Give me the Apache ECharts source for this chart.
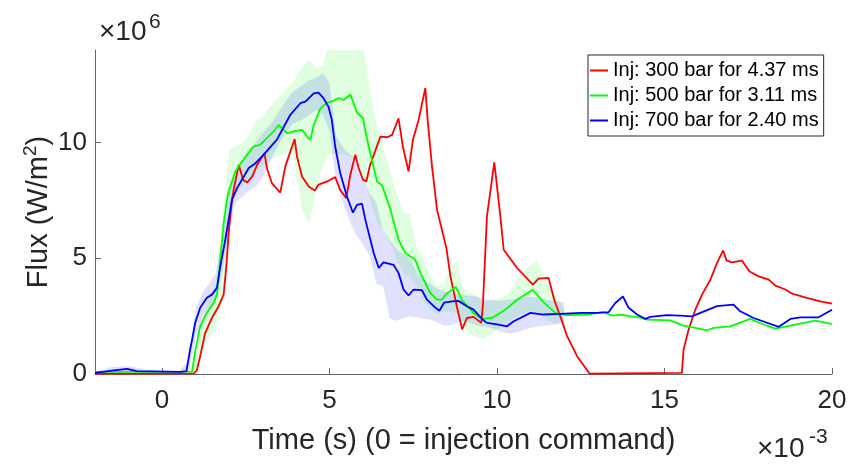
<!DOCTYPE html>
<html><head><meta charset="utf-8">
<script src="https://cdn.jsdelivr.net/npm/echarts@6/dist/echarts.min.js"></script>
<style>html,body{margin:0;padding:0;background:#fff}#c{width:852px;height:466px}</style>
</head><body><div id="c"></div>
<script>
// ---- data (x in ms i.e. ×10^-3 s, y in ×10^6 W/m^2) ----
const xTicks = [0, 5, 10, 15, 20];
const yTicks = [0, 5, 10];
const names = ['Inj: 300 bar for 4.37 ms', 'Inj: 500 bar for 3.11 ms', 'Inj: 700 bar for 2.40 ms'];

const red = [[-2,0.02],[0,0.02],[0.95,0.03],[1.04,0.16],[1.14,0.77],[1.29,1.78],[1.49,2.42],[1.69,2.93],[1.84,3.43],[1.92,4.65],[1.99,6.09],[2.09,7.53],[2.14,7.96],[2.29,9.04],[2.42,8.39],[2.54,8.27],[2.69,8.53],[2.84,9.04],[3.06,9.54],[3.13,8.90],[3.28,8.25],[3.53,7.84],[3.68,8.96],[3.83,9.61],[3.96,10.15],[4.03,9.40],[4.18,8.53],[4.38,8.10],[4.56,7.93],[4.67,8.18],[4.93,8.32],[5.17,8.51],[5.32,7.95],[5.50,7.60],[5.62,8.6],[5.77,9.47],[5.87,8.9],[6.0,8.4],[6.10,8.32],[6.2,8.97],[6.52,10.26],[6.72,10.23],[6.87,10.33],[7.06,11.05],[7.19,9.83],[7.36,8.75],[7.49,10.12],[7.66,10.98],[7.86,12.35],[7.93,10.98],[8.06,8.97],[8.21,7.10],[8.49,5.44],[8.61,4.22],[8.81,2.86],[8.96,1.93],[9.10,2.42],[9.30,2.47],[9.53,2.21],[9.58,3.0],[9.70,6.81],[9.92,9.14],[10.1,6.81],[10.2,5.37],[10.60,4.58],[11.07,3.86],[11.24,4.12],[11.54,4.15],[11.71,3.2],[11.89,2.49],[12.09,1.65],[12.39,0.77],[12.76,0.02],[15.52,0.05],[15.57,1.06],[15.72,1.92],[15.92,2.78],[16.12,3.43],[16.37,4.08],[16.57,4.80],[16.75,5.34],[16.85,4.91],[17.01,4.82],[17.31,4.90],[17.54,4.43],[17.81,4.22],[18.11,4.08],[18.31,3.82],[18.61,3.65],[18.81,3.47],[19.25,3.29],[19.65,3.14],[20.0,3.04]];

const green = [[-2,0.09],[0.9,0.1],[0.99,0.98],[1.14,2.06],[1.34,2.64],[1.54,3.07],[1.64,3.43],[1.74,4.94],[1.84,6.52],[1.94,7.53],[1.99,7.89],[2.19,8.75],[2.34,9.08],[2.54,9.47],[2.73,9.83],[2.93,9.90],[3.13,10.19],[3.33,10.48],[3.48,10.76],[3.58,10.62],[3.73,10.41],[3.93,10.48],[4.18,10.55],[4.33,10.26],[4.43,10.12],[4.53,10.76],[4.73,11.48],[4.93,11.73],[5.07,11.77],[5.27,11.92],[5.42,11.84],[5.62,12.08],[5.67,12.08],[5.82,11.3],[6.0,11.05],[6.07,10.5],[6.17,9.83],[6.42,8.32],[6.57,8.15],[6.82,7.10],[7.06,5.80],[7.26,5.23],[7.56,4.94],[7.71,4.37],[8.01,3.50],[8.21,3.21],[8.36,3.21],[8.46,3.43],[8.77,3.76],[8.96,3.18],[9.30,2.64],[9.55,2.38],[9.85,2.42],[10.25,2.78],[10.6,3.21],[11.07,3.64],[11.39,3.10],[11.74,2.64],[12.09,2.54],[12.69,2.57],[13.18,2.67],[13.43,2.52],[13.73,2.57],[13.98,2.49],[14.18,2.47],[14.48,2.35],[15.17,2.32],[15.57,2.09],[15.92,1.99],[16.27,1.89],[16.47,1.99],[16.96,2.06],[17.56,2.38],[17.96,2.14],[18.31,1.96],[18.76,2.09],[19.05,2.18],[19.50,2.31],[20.0,2.17]];

const blue = [[-2,0.05],[-1.44,0.16],[-1.04,0.22],[-0.75,0.12],[0.55,0.09],[0.73,0.12],[0.84,1.06],[0.90,1.49],[0.99,2.21],[1.14,2.86],[1.34,3.29],[1.49,3.43],[1.64,3.72],[1.74,4.65],[1.89,5.80],[2.04,7.10],[2.09,7.53],[2.24,8.03],[2.59,8.90],[2.79,9.11],[3.03,9.47],[3.43,10.13],[3.83,11.20],[4.13,11.70],[4.28,11.77],[4.53,12.13],[4.67,12.16],[4.82,11.92],[4.97,11.55],[5.07,10.98],[5.17,9.83],[5.32,8.68],[5.52,7.67],[5.70,6.97],[5.82,7.31],[5.97,7.36],[6.07,6.67],[6.22,5.80],[6.32,5.23],[6.47,4.58],[6.61,4.82],[6.76,4.77],[6.91,4.72],[7.06,4.37],[7.21,3.65],[7.36,3.39],[7.51,3.65],[7.76,3.62],[7.91,3.21],[8.11,2.93],[8.28,2.73],[8.42,3.08],[8.66,3.14],[8.85,3.16],[9.10,2.93],[9.30,2.78],[9.55,2.38],[9.70,2.21],[10.0,2.14],[10.3,2.06],[10.5,2.28],[11.0,2.64],[11.39,2.57],[11.89,2.60],[12.5,2.64],[12.99,2.64],[13.33,2.67],[13.53,3.07],[13.76,3.35],[13.93,2.86],[14.18,2.57],[14.43,2.38],[14.58,2.47],[15.07,2.54],[15.47,2.52],[15.82,2.49],[16.07,2.64],[16.57,2.93],[17.06,3.00],[17.26,2.71],[17.66,2.42],[18.41,2.04],[18.76,2.38],[19.05,2.45],[19.60,2.45],[20.0,2.78]];

const bandX   = [-2,-1.5,-1,-0.5,0,0.5,0.8,1.0,1.2,1.4,1.6,1.8,2.0,2.2,2.5,2.8,3.0,3.3,3.6,3.9,4.2,4.4,4.6,4.8,5.0,5.2,5.4,5.6,5.8,6.0,6.2,6.4,6.6,6.8,7.0,7.2,7.4,7.6,7.8,8.0,8.2,8.4,8.6,8.8,9.0,9.2,9.4,9.6,9.8,10.0,10.3,10.6,10.9,11.2,11.5,11.8,12.0];
const greenLo = [0.06,0.06,0.06,0.06,0.06,0.06,0.06,0.1,1.0,1.5,2.0,3.0,6.5,7.8,8.3,8.7,9.0,9.3,9.5,9.6,7.0,6.5,8.0,9.0,9.5,9.5,9.5,9.4,9.2,8.6,7.6,6.6,6.2,5.7,5.0,4.4,4.2,3.8,3.2,2.8,2.6,2.7,2.7,2.6,2.0,1.7,1.6,1.5,1.7,1.9,2.2,2.5,2.7,2.7,2.3,2.2,2.4];
const greenHi = [0.12,0.12,0.12,0.12,0.12,0.12,0.14,0.7,2.2,3.2,3.8,6.5,9.7,9.8,10.1,10.9,11.1,11.7,12.1,12.6,13.3,13.6,13.2,13.3,14.5,15,15,15,15,14.2,12.3,10.8,9.8,8.8,7.8,7.0,6.9,5.5,5.0,4.3,3.8,3.9,4.6,4.9,3.7,3.5,3.4,3.1,3.2,3.25,3.4,4.1,4.6,4.9,3.9,3.3,2.8];
const blueLo  = [0.0,0.05,0.1,0.05,0.06,0.06,0.1,1.5,2.2,2.8,3.1,4.4,6.2,7.4,7.8,8.1,8.5,9.4,10.2,10.8,11.0,11.2,11.4,11.2,10.5,8.3,7.4,6.6,6.0,5.6,5.1,3.9,3.8,2.4,2.3,2.4,2.5,2.45,2.4,2.35,2.25,2.1,2.1,2.2,2.3,2.2,2.1,2.05,2.0,1.9,1.75,1.8,1.95,2.05,2.1,2.15,2.2];
const blueHi  = [0.1,0.3,0.35,0.2,0.14,0.12,0.6,2.8,3.5,3.9,4.3,5.9,7.8,8.6,9.5,10.0,10.4,10.9,11.6,12.2,12.5,12.7,12.8,13.0,12.6,10.3,9.8,9.5,9.3,8.5,7.8,7.4,6.2,5.8,5.4,5.2,5.0,4.4,4.1,3.9,3.7,3.6,3.5,3.45,3.4,3.38,3.35,3.25,3.2,3.15,3.2,3.25,3.35,3.3,3.2,3.15,3.1];

// ---- chart ----
const FONT = '"Liberation Sans", Arial, Helvetica, sans-serif';
const TXT = '#262626';
const AX = '#666666';

function bandSeries(lo, hi, color) {
  return {
    type: 'custom', silent: true, z: 1,
    data: bandX.map((x, i) => [x, lo[i], hi[i]]),
    encode: { x: 0, y: [1, 2] },
    renderItem: function (params, api) {
      if (params.dataIndex !== 0) return null;
      const pts = [];
      for (let i = 0; i < bandX.length; i++) pts.push(api.coord([bandX[i], hi[i]]));
      for (let i = bandX.length - 1; i >= 0; i--) pts.push(api.coord([bandX[i], lo[i]]));
      const cs = params.coordSys;
      return {
        type: 'polygon', shape: { points: pts }, style: { fill: color, stroke: null },
        clipPath: { type: 'rect', shape: { x: cs.x, y: cs.y, width: cs.width, height: cs.height } }
      };
    }
  };
}
function lineSeries(name, data, color, z) {
  return { type: 'line', name: name, data: data, symbol: 'none', showSymbol: false, z: z,
    lineStyle: { color: color, width: 1.8 }, itemStyle: { color: color } };
}

const chart = echarts.init(document.getElementById('c'), null, { renderer: 'canvas' });
chart.setOption({
  animation: false,
  backgroundColor: '#ffffff',
  grid: { left: 95, right: 20, top: 50, bottom: 92, containLabel: false },
  legend: {
    data: names, orient: 'vertical', left: 588, top: 55,
    padding: [5, 5, 5, 2], itemGap: 4, itemWidth: 18, itemHeight: 2, icon: 'rect',
    backgroundColor: '#ffffff', borderColor: '#262626', borderWidth: 1,
    textStyle: { fontSize: 20, fontFamily: FONT, color: '#000', lineHeight: 21 }
  },
  xAxis: {
    type: 'value', min: -2, max: 20,
    name: 'Time (s) (0 = injection command)', nameLocation: 'middle', nameGap: 52,
    nameMoveOverlap: false,
    nameTextStyle: { fontSize: 29, fontFamily: FONT, color: TXT },
    axisLine: { show: true, onZero: false, lineStyle: { color: AX, width: 1 } },
    axisTick: { show: true, inside: true, length: 6, customValues: xTicks, lineStyle: { color: AX } },
    axisLabel: { customValues: xTicks, fontSize: 26, fontFamily: FONT, color: TXT, margin: 14 },
    splitLine: { show: false }
  },
  yAxis: {
    type: 'value', min: 0, max: 14,
    name: '{a|Flux (W/m}{b|2}{a|)}', nameLocation: 'middle', nameGap: 38,
    nameMoveOverlap: false,
    nameTextStyle: { rich: {
      a: { fontSize: 29, fontFamily: FONT, color: TXT, lineHeight: 36 },
      b: { fontSize: 19, fontFamily: FONT, color: TXT, verticalAlign: 'top', lineHeight: 19 }
    } },
    axisLine: { show: true, onZero: false, lineStyle: { color: AX, width: 1 } },
    axisTick: { show: true, inside: true, length: 6, customValues: yTicks, lineStyle: { color: AX } },
    axisLabel: { customValues: yTicks, fontSize: 26, fontFamily: FONT, color: TXT, margin: 8 },
    splitLine: { show: false }
  },
  graphic: [
    { type: 'text', x: 99, y: 32, style: { text: '×10', font: '28px ' + FONT, fill: TXT, align: 'left', verticalAlign: 'middle' } },
    { type: 'text', x: 149, y: 22, style: { text: '6', font: '21px ' + FONT, fill: TXT, align: 'left', verticalAlign: 'middle' } },
    { type: 'text', x: 757, y: 449, style: { text: '×10', font: '28px ' + FONT, fill: TXT, align: 'left', verticalAlign: 'middle' } },
    { type: 'text', x: 809, y: 437, style: { text: '-3', font: '21px ' + FONT, fill: TXT, align: 'left', verticalAlign: 'middle' } }
  ],
  series: [
    bandSeries(greenLo, greenHi, 'rgba(0,255,0,0.12)'),
    bandSeries(blueLo, blueHi, 'rgba(0,0,255,0.12)'),
    lineSeries(names[0], red, '#ff0000', 3),
    lineSeries(names[1], green, '#00ff00', 4),
    lineSeries(names[2], blue, '#0000ff', 5)
  ]
});
</script>
</body></html>
